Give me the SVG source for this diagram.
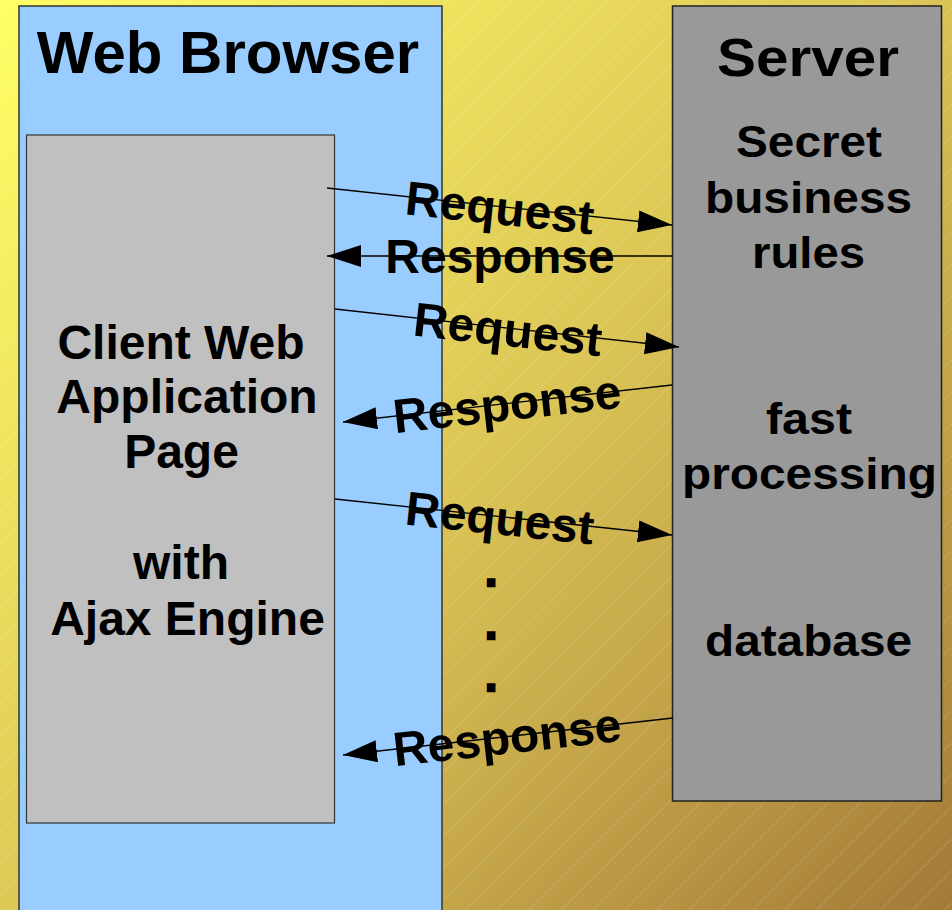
<svg xmlns="http://www.w3.org/2000/svg" width="952" height="910" viewBox="0 0 952 910">
  <defs>
    <linearGradient id="bg" x1="0" y1="0" x2="952" y2="910" gradientUnits="userSpaceOnUse">
      <stop offset="0" stop-color="#ffff66"/>
      <stop offset="0.5" stop-color="#dcc656"/>
      <stop offset="1" stop-color="#a47a38"/>
    </linearGradient>
    <pattern id="hatch" width="22.6" height="22.6" patternUnits="userSpaceOnUse" patternTransform="rotate(45)">
      <line x1="0" y1="0" x2="0" y2="22.6" stroke="#ffffff" stroke-opacity="0.28" stroke-width="1"/>
    </pattern>
    <marker id="arrow" markerUnits="userSpaceOnUse" markerWidth="36" markerHeight="24" refX="34" refY="11" orient="auto">
      <path d="M0,0 L34,11 L0,22 Z" fill="#000"/>
    </marker>
    <style>
      .t { font-family: "Liberation Sans", Arial, sans-serif; font-weight: bold; fill: #000; }
      .title { font-size: 60px; }
      .client { font-size: 48px; text-anchor: middle; }
      .srv { font-size: 44px; }
      .lbl { font-size: 48px; text-anchor: middle; }
      .dot { font-size: 44px; stroke: #000; stroke-width: 2.4; stroke-linejoin: miter; }
      .conn { stroke: #000; stroke-width: 1.3; fill: none; marker-end: url(#arrow); }
    </style>
  </defs>

  <rect x="0" y="0" width="952" height="910" fill="url(#bg)"/>
  <rect x="0" y="0" width="952" height="910" fill="url(#hatch)"/>

  <g id="browser">
    <rect x="19" y="6" width="423" height="920" fill="#99ccff" stroke="#333" stroke-width="1.5"/>
    <text class="t title" x="228" y="73" text-anchor="middle">Web Browser</text>
  </g>

  <g id="client">
    <rect x="26.5" y="135" width="308" height="688" fill="#c0c0c0" stroke="#333" stroke-width="1.2"/>
    <text class="t client" x="181" y="359">Client Web</text>
    <text class="t client" x="187" y="413">Application</text>
    <text class="t client" x="181.5" y="468">Page</text>
    <text class="t client" x="181" y="579">with</text>
    <text class="t client" x="187.5" y="635">Ajax Engine</text>
  </g>

  <g id="server">
    <rect x="672.5" y="6" width="269" height="795" fill="#999999" stroke="#222" stroke-width="1.5"/>
    <text class="t" font-size="53" x="717" y="76" textLength="182" lengthAdjust="spacingAndGlyphs">Server</text>
    <text class="t srv" x="736" y="157" textLength="146" lengthAdjust="spacingAndGlyphs">Secret</text>
    <text class="t srv" x="705" y="213" textLength="207" lengthAdjust="spacingAndGlyphs">business</text>
    <text class="t srv" x="752" y="268" textLength="113" lengthAdjust="spacingAndGlyphs">rules</text>
    <text class="t srv" x="766" y="434" textLength="86" lengthAdjust="spacingAndGlyphs">fast</text>
    <text class="t srv" x="682" y="489" textLength="255" lengthAdjust="spacingAndGlyphs">processing</text>
    <text class="t srv" x="705" y="656" textLength="207" lengthAdjust="spacingAndGlyphs">database</text>
  </g>

  <g id="connectors">
    <line class="conn" x1="327" y1="188" x2="672" y2="225"/>
    <line class="conn" x1="672" y1="256" x2="327" y2="256"/>
    <line class="conn" x1="335" y1="309" x2="679" y2="347"/>
    <line class="conn" x1="672" y1="385" x2="343" y2="422"/>
    <line class="conn" x1="335" y1="499" x2="672" y2="535"/>
    <line class="conn" x1="673" y1="718" x2="343" y2="755"/>
  </g>

  <g id="labels">
    <text class="t lbl" transform="translate(500,206.5) rotate(6.1)" y="18">Request</text>
    <text class="t lbl" x="500" y="273">Response</text>
    <text class="t lbl" transform="translate(508,328) rotate(6.3)" y="18">Request</text>
    <text class="t lbl" transform="translate(507,403.5) rotate(-6.4)" y="17">Response</text>
    <text class="t lbl" transform="translate(500,516.6) rotate(6.1)" y="18">Request</text>
    <text class="t lbl" transform="translate(507,736.6) rotate(-6.4)" y="17">Response</text>
  </g>

  <g id="dots">
    <text class="t dot" x="485" y="586">.</text>
    <text class="t dot" x="485" y="639">.</text>
    <text class="t dot" x="485" y="691">.</text>
  </g>
</svg>
